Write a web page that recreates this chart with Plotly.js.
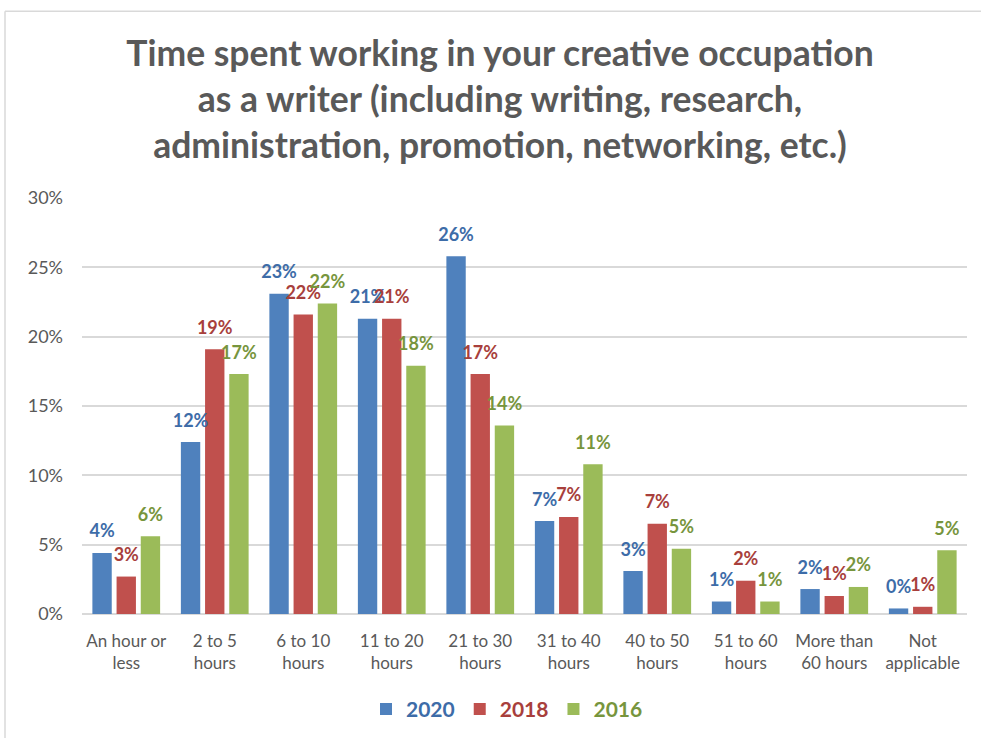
<!DOCTYPE html>
<html>
<head>
<meta charset="utf-8">
<script src="https://cdn.plot.ly/plotly-3.0.1.min.js"></script>
<style>
  html, body { margin: 0; padding: 0; background: #ffffff; }
  #chart { width: 981px; height: 742px; }
</style>
</head>
<body>
<div id="chart"></div>
<script>
// Categories (hours per week)
const categories = [
  "An hour or<br>less", "2 to 5<br>hours", "6 to 10<br>hours", "11 to 20<br>hours",
  "21 to 30<br>hours", "31 to 40<br>hours", "40 to 50<br>hours", "51 to 60<br>hours",
  "More than<br>60 hours", "Not<br>applicable"
];
// Series values (percent of respondents)
const values2020 = [4.4, 12.4, 23.1, 21.3, 25.8, 6.7, 3.1, 0.9, 1.8, 0.4];
const values2018 = [2.7, 19.1, 21.6, 21.3, 17.3, 7.0, 6.5, 2.4, 1.3, 0.52];
const values2016 = [5.6, 17.3, 22.4, 17.9, 13.6, 10.8, 4.7, 0.9, 1.95, 4.6];
const seriesNames = ["2020", "2018", "2016"];
const barColors = ["#4F81BD", "#C0504D", "#9BBB59"];
const labelColors = ["#3D6CA8", "#A83F3C", "#77953D"];

const allValues = [values2020, values2018, values2016];
const FONT = "Lato, 'Open Sans', sans-serif";

const barTraces = allValues.map((vals, i) => ({
  type: "bar",
  x: categories,
  y: vals,
  name: '<span style="color:' + labelColors[i] + '">' + seriesNames[i] + '</span>',
  marker: { color: barColors[i] },
  hovertemplate: seriesNames[i] + ": %{y:.1f}%<extra></extra>"
}));

// Data labels: text-only scatter traces grouped to line up with the bars
const labelTraces = allValues.map((vals, i) => ({
  type: "scatter",
  mode: "markers+text",
  x: categories,
  y: vals,
  showlegend: false,
  hoverinfo: "skip",
  marker: { size: 16, color: "rgba(0,0,0,0)" },
  texttemplate: "%{y:.0f}%",
  textposition: "top center",
  cliponaxis: false,
  textfont: { family: FONT, size: 18, color: labelColors[i], weight: "bold" }
}));

const layout = {
  width: 981,
  height: 742,
  paper_bgcolor: "#ffffff",
  plot_bgcolor: "#ffffff",
  margin: { l: 82, r: 14, t: 198, b: 125 },
  barmode: "group",
  scattermode: "group",
  bargap: 0.18,
  scattergap: 0.18,
  bargroupgap: 0.2,
  title: {
    text: "Time spent working in your creative occupation<br>as a writer (including writing, research,<br>administration, promotion, networking, etc.)",
    font: { family: FONT, size: 35.5, color: "#595959", weight: "bold" },
    x: 500 / 981,
    xanchor: "center",
    xref: "container",
    y: 1 - 66 / 742,
    yanchor: "top",
    yref: "container"
  },
  xaxis: {
    showgrid: false,
    showline: false,
    ticks: "",
    tickfont: { family: FONT, size: 17, color: "#595959" },
    ticklabelstandoff: 15,
    automargin: false
  },
  yaxis: {
    range: [0, 30],
    dtick: 5,
    ticksuffix: "%",
    showgrid: true,
    gridcolor: "#D9D9D9",
    gridwidth: 1.5,
    zeroline: true,
    zerolinecolor: "#D9D9D9",
    zerolinewidth: 1.5,
    showline: false,
    ticks: "",
    tickfont: { family: FONT, size: 18, color: "#595959" },
    ticklabelstandoff: 18,
    automargin: false
  },
  showlegend: true,
  legend: {
    orientation: "h",
    x: (507 - 82) / 885,
    xanchor: "center",
    y: (617 - 713) / 419,
    yanchor: "middle",
    font: { family: FONT, size: 21, weight: "bold", color: "#595959" },
    itemwidth: 30,
    traceorder: "normal"
  },
  shapes: [
    { type: "line", xref: "paper", yref: "paper",
      x0: (5 - 82) / 885, x1: (981 - 82) / 885, y0: (617 - 10) / 419, y1: (617 - 10) / 419,
      line: { color: "#D9D9D9", width: 1.5 } },
    { type: "line", xref: "paper", yref: "paper",
      x0: (5 - 82) / 885, x1: (5 - 82) / 885, y0: (617 - 10) / 419, y1: (617 - 742) / 419,
      line: { color: "#D9D9D9", width: 1.5 } }
  ]
};

Plotly.newPlot("chart", barTraces.concat(labelTraces), layout, { displayModeBar: false });
</script>
</body>
</html>
